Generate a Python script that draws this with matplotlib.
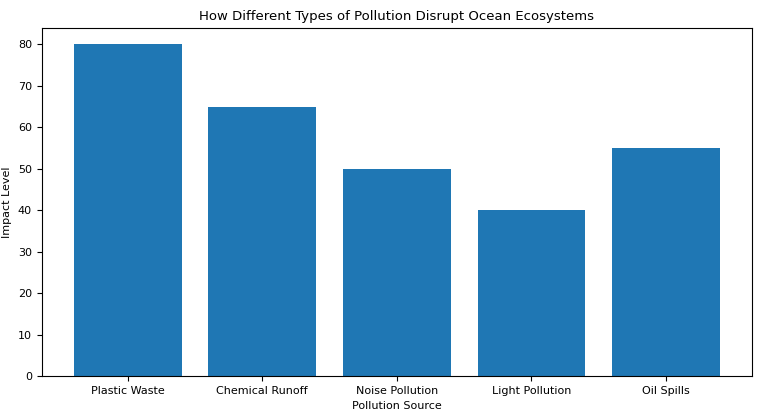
import matplotlib
matplotlib.use("Agg")
import matplotlib.pyplot as plt

categories = ["Plastic Waste", "Chemical Runoff", "Noise Pollution", "Light Pollution", "Oil Spills"]
values = [80, 65, 50, 40, 55]

fig = plt.figure(figsize=(7.58, 4.16), dpi=100)
ax = fig.add_axes([0.055, 0.096, 0.937, 0.837])
ax.bar(categories, values, color="#1f77b4")
ax.set_title("How Different Types of Pollution Disrupt Ocean Ecosystems", fontsize=9.5)
ax.set_xlabel("Pollution Source", fontsize=8)
ax.set_ylabel("Impact Level", fontsize=8)
ax.tick_params(labelsize=8)
fig.savefig("out.png", dpi=100)
